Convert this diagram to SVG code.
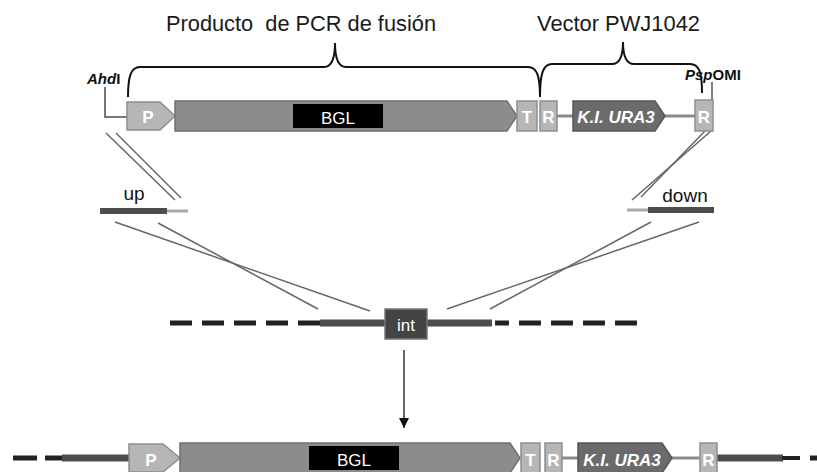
<svg xmlns="http://www.w3.org/2000/svg" width="817" height="472" viewBox="0 0 817 472">
<style>
text{font-family:"Liberation Sans",Arial,sans-serif}
.title{font-size:22px;fill:#1a1a1a}
.site{font-size:15px;font-weight:bold;fill:#111}
.lbl{font-size:17px;fill:#fff;text-anchor:middle}
.bold{font-weight:bold}
.frag{font-size:19px;fill:#111}
.light{fill:#b6b6b6;stroke:#8e8e8e;stroke-width:1.5}
.gene{fill:#8c8c8c;stroke:#707070;stroke-width:1.5}
.ura{fill:#6b6b6b;stroke:#555;stroke-width:1.5}
.blk{fill:#000}
.thin{stroke:#8a8a8a;stroke-width:3;fill:none}
.bar{stroke:#4d4d4d;stroke-width:7;fill:none}
.dash{stroke:#222;stroke-width:5;fill:none}
.cross{stroke:#666;stroke-width:1.5;fill:none}
.brace{stroke:#111;stroke-width:2;fill:none}
</style>
<defs>
<marker id="ah" markerWidth="10" markerHeight="10" refX="10" refY="5" orient="auto" markerUnits="userSpaceOnUse" viewBox="0 0 10 10">
<path d="M0,0 L10,5 L0,10 Z" fill="#111"/>
</marker>
</defs>

<g id="titles">
<text class="title" x="166" y="31" textLength="270" lengthAdjust="spacingAndGlyphs" xml:space="preserve">Producto  de PCR de fusión</text>
<text class="title" x="537" y="31" textLength="163" lengthAdjust="spacingAndGlyphs">Vector PWJ1042</text>
</g>

<g id="connectors">
<path class="brace" d="M128,97 C128,76 131,67 140,67 L324,67 C331,67 335,60 335,43 C335,60 339,67 346,67 L528,67 C537,67 540,76 540,97"/>
<path class="brace" d="M540,97 C540,74 543,64 552,64 L612,64 C619,64 623,57 623,42 C623,57 627,64 634,64 L690,64 C699,64 702,72 702,93"/>
<line class="cross" x1="106" y1="133" x2="175" y2="200"/>
<line class="cross" x1="116" y1="133" x2="181" y2="198"/>
<line class="cross" x1="711" y1="131" x2="632" y2="200"/>
<line class="cross" x1="705" y1="131" x2="641" y2="197"/>
<line class="cross" x1="115" y1="222" x2="370" y2="311"/>
<line class="cross" x1="158" y1="223" x2="318" y2="309"/>
<line class="cross" x1="699" y1="222" x2="447" y2="309"/>
<line class="cross" x1="651" y1="222" x2="490" y2="309"/>
<line x1="404" y1="350" x2="404" y2="428" stroke="#333" stroke-width="1.5" marker-end="url(#ah)"/>
</g>

<g id="construct">
<text class="site" x="87" y="84" font-style="italic">Ahd<tspan font-style="normal">I</tspan></text>
<polyline points="105,87 105,117 127,117" fill="none" stroke="#777" stroke-width="2"/>
<text class="site" x="685" y="80" font-style="italic">Psp<tspan font-style="normal">OMI</tspan></text>
<line x1="712" y1="82" x2="712" y2="100" stroke="#555" stroke-width="1.5"/>
<line class="thin" x1="557" y1="116" x2="573" y2="116"/>
<line class="thin" x1="665" y1="116" x2="695" y2="116"/>
<g id="top-P"><polygon class="light" points="127,102 160,102 175,116 160,130 127,130"/><text class="lbl bold" x="148" y="123">P</text></g>
<g id="top-BGL"><polygon class="gene" points="175,101 507,101 517,116 507,131 175,131"/><rect class="blk" x="293" y="104" width="90" height="24"/><text class="lbl" x="338" y="124">BGL</text></g>
<g id="top-T"><rect class="light" x="517" y="101" width="20" height="30"/><text class="lbl bold" x="527" y="123">T</text></g>
<g id="top-R1"><rect class="light" x="540" y="101" width="17" height="30"/><text class="lbl bold" x="548.5" y="123">R</text></g>
<g id="top-URA3"><polygon class="ura" points="573,101 655,101 665,116 655,131 573,131"/><text class="lbl bold" x="616" y="123" font-style="italic">K.I. URA3</text></g>
<g id="top-R2"><rect class="light" x="695" y="100" width="18" height="31"/><text class="lbl bold" x="704" y="123">R</text></g>
</g>

<g id="up">
<line x1="167" y1="211" x2="188" y2="211" stroke="#aaa" stroke-width="3"/>
<line x1="100" y1="211" x2="167" y2="211" stroke="#4d4d4d" stroke-width="6"/>
<text class="frag" x="134" y="200" text-anchor="middle">up</text>
</g>

<g id="down">
<line x1="627" y1="210" x2="648" y2="210" stroke="#aaa" stroke-width="3"/>
<line x1="648" y1="210" x2="714" y2="210" stroke="#4d4d4d" stroke-width="6"/>
<text class="frag" x="685" y="202" text-anchor="middle">down</text>
</g>

<g id="locus">
<line class="dash" x1="170" y1="323" x2="320" y2="323" stroke-dasharray="22 10"/>
<line class="dash" x1="637" y1="323" x2="495" y2="323" stroke-dasharray="22 10"/>
<line class="bar" x1="320" y1="323" x2="386" y2="323"/>
<line class="bar" x1="426" y1="323" x2="492" y2="323"/>
<g id="int"><rect x="385" y="309" width="42" height="30" fill="#444" stroke="#777" stroke-width="1.5"/><text class="lbl" x="406" y="331">int</text></g>
</g>

<g id="result">
<line class="dash" x1="13" y1="458" x2="64" y2="458" stroke-dasharray="24 8"/>
<line class="bar" x1="62" y1="458" x2="130" y2="458"/>
<line class="thin" x1="562" y1="458" x2="578" y2="458"/>
<line class="thin" x1="672" y1="458" x2="700" y2="458"/>
<line class="bar" x1="717" y1="458" x2="783" y2="458"/>
<line x1="782" y1="458" x2="800" y2="458" stroke="#222" stroke-width="4"/>
<line x1="810" y1="458" x2="817" y2="458" stroke="#222" stroke-width="5"/>
<g id="bot-P"><polygon class="light" points="129,444 163,444 180,458 163,472 129,472"/><text class="lbl bold" x="151" y="466">P</text></g>
<g id="bot-BGL"><polygon class="gene" points="180,443 510,443 520,458 510,473 180,473"/><rect class="blk" x="309" y="446" width="90" height="24"/><text class="lbl" x="354" y="466">BGL</text></g>
<g id="bot-T"><rect class="light" x="521" y="443" width="19" height="30"/><text class="lbl bold" x="530.5" y="466">T</text></g>
<g id="bot-R1"><rect class="light" x="545" y="443" width="17" height="30"/><text class="lbl bold" x="553.5" y="466">R</text></g>
<g id="bot-URA3"><polygon class="ura" points="578,443 662,443 672,458 662,473 578,473"/><text class="lbl bold" x="622" y="466" font-style="italic">K.I. URA3</text></g>
<g id="bot-R2"><rect class="light" x="700" y="443" width="17" height="30"/><text class="lbl bold" x="708.5" y="466">R</text></g>
</g>
</svg>
